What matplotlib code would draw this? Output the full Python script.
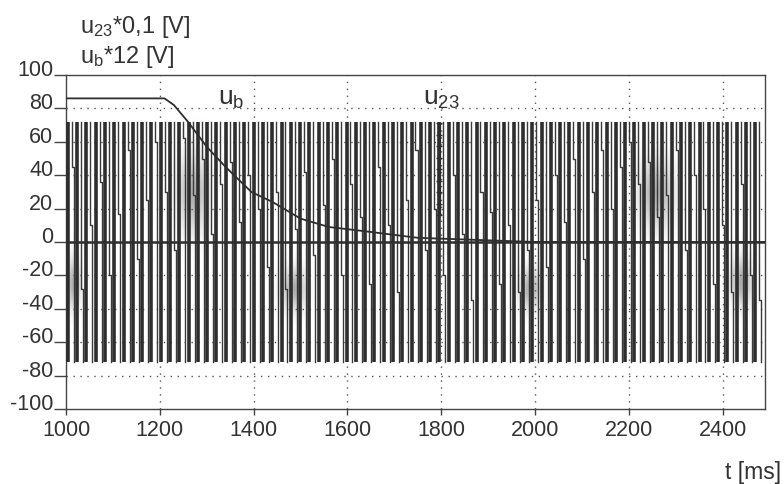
import numpy as np
import matplotlib
matplotlib.use("Agg")
import matplotlib.pyplot as plt

plt.rcParams["font.family"] = ["Liberation Sans", "DejaVu Sans"]
plt.rcParams["mathtext.fontset"] = "custom"
plt.rcParams["mathtext.rm"] = "Liberation Sans"
plt.rcParams["mathtext.it"] = "Liberation Sans"
plt.rcParams["axes.unicode_minus"] = False

# u_b*12 envelope (ms, scaled V)
ub_t = [1000, 1210, 1230, 1260, 1300, 1340, 1395, 1440, 1500, 1560, 1650, 1750, 1850, 1950, 2000, 2490]
ub_v = [86, 86, 82, 72, 57, 45, 30, 24, 14, 9, 6, 2.5, 1.5, 0.5, 0, 0]

# u23*0,1 pulse train: carrier period, first edge, pulse amplitude
carrier_period = 19.8
first_pulse = 1004
pulse_top = 72
pulse_bottom = -72
# level of the step inside each carrier period
step_level = [45, -28, 10, 36, -20, 17, 55, -10, 25, 60,
              30, -5, 62, 28, 50, 5, 35, 48, 12, 40,
              20, -15, 30, -28, 8, 42, -8, 22, 50, -20,
              35, 15, -25, 45, 10, -30, 25, 55, -5, 20,
              -20, 40, 5, -35, 30, 18, -25, 10, -30, -5,
              25, -15, 40, 12, 50, -10, 30, 55, 20, 45,
              60, 35, 48, 15, 28, 55, -5, 40, 20, -25,
              10, -30, 35, -20, -35]

# grey smear spots (centre t, centre value, half widths)
smear_t = [1015, 1270, 1485, 1990, 2260, 2440]
smear_v = [-25, 30, -28, -28, 30, -24]
smear_wt = [14, 30, 25, 22, 35, 22]
smear_wv = [14, 22, 12, 12, 20, 14]

xlim = (1000, 2490)
ylim = (-100, 100)
ink = "#2e2e2e"

fig = plt.figure(figsize=(7.84, 4.85), dpi=100)
ax = fig.add_axes([66 / 784, 1 - 410 / 485, (765 - 66) / 784, (410 - 76) / 485])

# soft grey smears
gx = np.linspace(*xlim, 600)
gy = np.linspace(*ylim, 300)
X, Y = np.meshgrid(gx, gy)
Z = np.zeros_like(X)
for ct, cv, wt, wv in zip(smear_t, smear_v, smear_wt, smear_wv):
    Z += np.exp(-((X - ct) / wt) ** 2 - ((Y - cv) / wv) ** 2)
rgba = np.zeros(Z.shape + (4,))
rgba[..., :3] = 0.35
rgba[..., 3] = np.clip(Z, 0, 1) * 0.5
ax.imshow(rgba, extent=(*xlim, *ylim), origin="lower", aspect="auto",
          interpolation="bilinear", zorder=1)

# dotted grid
for t in range(1200, 2490, 200):
    ax.axvline(t, color="#555555", lw=1.0, ls=(0, (1, 4)), zorder=0.5)
for v in range(-80, 100, 20):
    if v != 0:
        ax.axhline(v, color="#555555", lw=1.0, ls=(0, (1, 4)), zorder=0.5)

# u23 pulses: full-height bars plus the stepped edge between them
bar_t = first_pulse + carrier_period * np.arange(len(step_level))
keep = bar_t < xlim[1] - 2
ax.vlines(bar_t[keep], pulse_bottom, pulse_top, color=ink, lw=2.6, zorder=3)
sx, sy = [], []
for t, h in zip(bar_t, step_level):
    xa = t + 0.42 * carrier_period
    xb = t + 0.64 * carrier_period
    if xb > xlim[1] - 1:
        continue
    sx += [xa, xa, xb, xb, np.nan]
    sy += [pulse_top, h, h, pulse_bottom, np.nan]
ax.plot(sx, sy, color="#3a3a3a", lw=1.0, zorder=3)

# label pointer on u23
lad_t, lad_top, lad_bot = 1795, 71, 16
ax.plot([lad_t - 2.5, lad_t - 2.5], [lad_bot, lad_top], color=ink, lw=0.9, zorder=4)
ax.plot([lad_t + 2.5, lad_t + 2.5], [lad_bot, lad_top], color=ink, lw=0.9, zorder=4)
ax.plot(np.full(9, lad_t), np.linspace(lad_bot, lad_top, 9), ls="none",
        marker="_", ms=5, color=ink, zorder=4)

# zero axis and u_b
ax.axhline(0, color=ink, lw=1.8, zorder=4)
ax.plot(ub_t, ub_v, color=ink, lw=1.3, zorder=5)

ax.text(1353, 86, r"u$_\mathrm{b}$", fontsize=19, color="#333333",
        ha="center", va="center", zorder=6)
ax.text(1800, 86, r"u$_\mathrm{23}$", fontsize=19, color="#333333",
        ha="center", va="center", zorder=6)

ax.set_xlim(*xlim)
ax.set_ylim(*ylim)
ax.set_xticks(range(1000, 2490, 200))
ax.set_yticks(range(-100, 101, 20))
ax.tick_params(axis="y", length=9, width=1, color="#444444", pad=0,
               labelsize=15.5, labelcolor="#333333")
ax.tick_params(axis="x", length=4, width=1, color="#444444", pad=3,
               labelsize=15.5, labelcolor="#333333")
for lab in ax.get_yticklabels():
    lab.set_verticalalignment("baseline")
for sp in ax.spines.values():
    sp.set_color("#444444")
    sp.set_linewidth(1.0)

fig.text(80 / 784, 1 - 33 / 485, r"u$_\mathrm{23}$*0,1 [V]", fontsize=17,
         color="#333333", ha="left", va="baseline")
fig.text(80 / 784, 1 - 63 / 485, r"u$_\mathrm{b}$*12 [V]", fontsize=17,
         color="#333333", ha="left", va="baseline")
fig.text(781 / 784, 1 - 479 / 485, "t [ms]", fontsize=16.5,
         color="#333333", ha="right", va="baseline")

fig.savefig("out.png", dpi=100)
